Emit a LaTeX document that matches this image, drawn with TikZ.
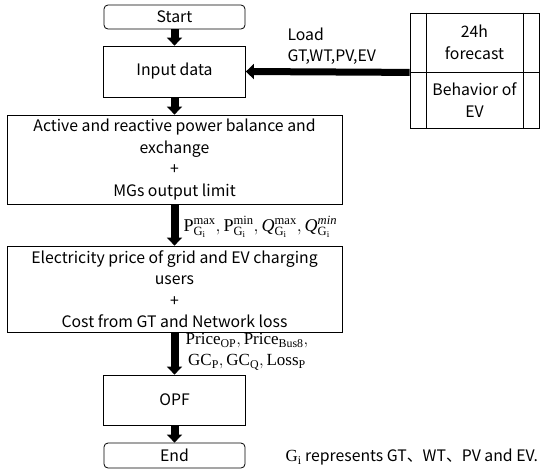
\RequirePackage{fix-cm}
\documentclass[tikz,border=0pt]{standalone}
\usepackage{amsmath}
\usepackage{fontspec}
\setmainfont{Noto Sans CJK SC}
\setmathrm{Liberation Serif}
\usetikzlibrary{arrows.meta}

\begin{document}
\begin{tikzpicture}[x=1pt,y=-1pt,font=\fontsize{15.8}{21.5}\selectfont,
  box/.style={draw,line width=.8pt,inner sep=0pt,align=center},
  term/.style={box,rounded corners=4pt},
  flow/.style={line width=8pt,-{Triangle[width=15pt,length=8pt]}}]
  \useasboundingbox (0,0) rectangle (550,475);
  \node[term,minimum width=141pt,minimum height=24pt] (start) at (174.5,17) {Start};
  \node[box,minimum width=142pt,minimum height=51pt] (input) at (174.5,71.5) {Input data};
  \node[box,minimum width=335pt,minimum height=89pt] (balance) at (174.5,159.5)
    {Active and reactive power balance and\\exchange\\+\\MGs output limit};
  \node[box,minimum width=335pt,minimum height=86pt] (price) at (174.5,289)
    {Electricity price of grid and EV charging\\users\\+\\Cost from GT and Network loss};
  \node[box,minimum width=142pt,minimum height=50pt] (opf) at (174.5,400) {OPF};
  \node[term,minimum width=141pt,minimum height=25pt] (end) at (174.5,455.5) {End};
  \node[box,minimum width=129pt,minimum height=59pt] (forecast) at (474.5,42.5) {24h\\forecast};
  \node[box,minimum width=129pt,minimum height=56pt] (behav) at (474.5,100) {Behavior of\\EV};
  \draw[line width=.8pt] ([xshift=17pt]forecast.north west) -- ([xshift=17pt]behav.south west)
    ([xshift=-16pt]forecast.north east) -- ([xshift=-16pt]behav.south east);
  \draw[flow] (start) -- (input);
  \draw[flow] (input) -- (balance);
  \draw[flow] (balance) -- (price);
  \draw[flow] (price) -- (opf);
  \draw[flow] (opf) -- (end);
  \draw[flow,line width=7pt] (forecast.south west) -- (input.east);
  \node[anchor=west,align=left] (lbl) at (284,46) {Load\\GT,WT,PV,EV};
  \node[anchor=west,font=\fontsize{18}{22}\selectfont] (plim) at (180,227)
    {$\mathrm{P}_{\mathrm{G_i}}^{\mathrm{max}},\mathrm{P}_{\mathrm{G_i}}^{\mathrm{min}},
      \mathit{Q}_{\mathrm{G_i}}^{\mathrm{max}},\mathit{Q}_{\mathrm{G_i}}^{\mathit{min}}$};
  \node[align=center,font=\fontsize{17}{21}\selectfont] (cost) at (247,352)
    {$\mathrm{Price_{OP}},\mathrm{Price_{Bus8}},$\\$\mathrm{GC_P},\mathrm{GC_Q},\mathrm{Loss_P}$};
  \node[anchor=west] (note) at (282,457)
    {{\fontsize{17}{21}\selectfont$\mathrm{G_i}$} represents GT、WT、PV and EV.};
\end{tikzpicture}
\end{document}
